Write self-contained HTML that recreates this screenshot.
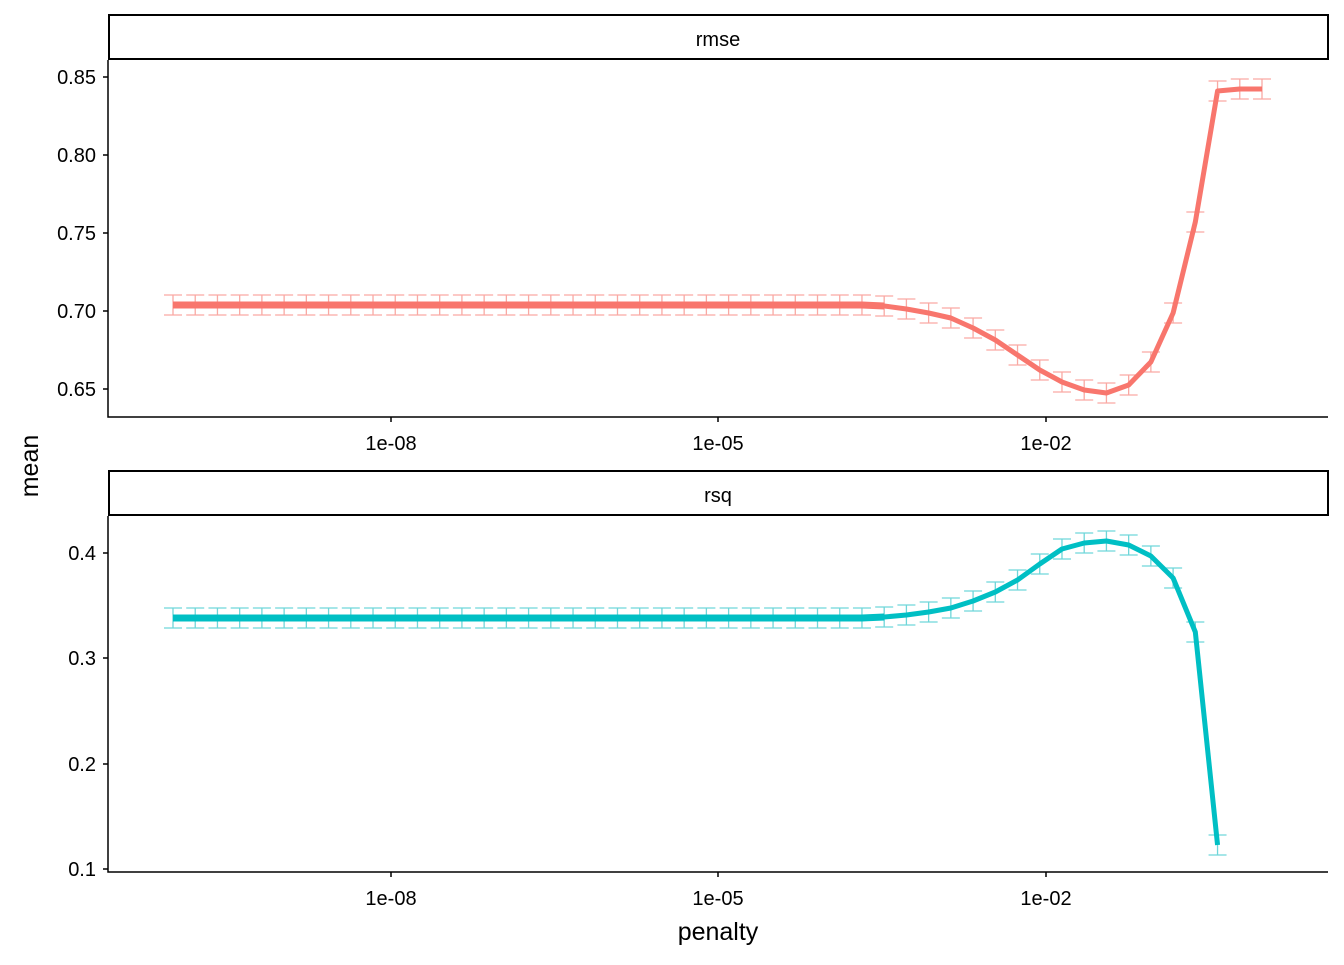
<!DOCTYPE html>
<html><head><meta charset="utf-8"><style>
html,body{margin:0;padding:0;background:#fff;}
svg text{font-family:"Liberation Sans",Arial,sans-serif;}
</style></head><body>
<svg id="s" width="1344" height="960" xmlns="http://www.w3.org/2000/svg">
<rect width="1344" height="960" fill="#fff"/>
<rect x="109" y="15" width="1219" height="44" fill="#fff" stroke="#000" stroke-width="2"/>
<text x="718" y="46" font-size="20" text-anchor="middle">rmse</text>
<rect x="109" y="471" width="1219" height="44" fill="#fff" stroke="#000" stroke-width="2"/>
<text x="718" y="502" font-size="20" text-anchor="middle">rsq</text>
<g stroke="#000" stroke-width="1.5" fill="none">
<path d="M108 60V417H1328"/>
<path d="M108 516V872H1328"/>
</g>
<g id="ticks" stroke="#000" stroke-width="1.5"></g>
<g id="labels" font-size="20" fill="#000"></g>
<g id="plot"></g>
<text x="718" y="940" font-size="25" text-anchor="middle">penalty</text>
<text transform="translate(38,466) rotate(-90)" font-size="25" text-anchor="middle">mean</text>
</svg>
<script>
const NS="http://www.w3.org/2000/svg";
function el(p,t,a,txt){const e=document.createElementNS(NS,t);for(const k in a)e.setAttribute(k,a[k]);if(txt)e.textContent=txt;document.getElementById(p).appendChild(e);}
[[0.85,77],[0.80,155],[0.75,233],[0.70,311],[0.65,389]].forEach(([v,y])=>{el('ticks','line',{x1:103,x2:108,y1:y,y2:y});el('labels','text',{x:96,y:y+7,'text-anchor':'end'},v.toFixed(2));});
[[0.4,553],[0.3,658],[0.2,764],[0.1,869]].forEach(([v,y])=>{el('ticks','line',{x1:103,x2:108,y1:y,y2:y});el('labels','text',{x:96,y:y+7,'text-anchor':'end'},v.toFixed(1));});
[[391,'1e-08'],[718,'1e-05'],[1046,'1e-02']].forEach(([x,t])=>{
 el('ticks','line',{x1:x,x2:x,y1:417,y2:422});el('ticks','line',{x1:x,x2:x,y1:872,y2:877});
 el('labels','text',{x:x,y:450,'text-anchor':'middle'},t);el('labels','text',{x:x,y:905,'text-anchor':'middle'},t);
});
const xs=[];for(let i=0;i<50;i++)xs.push(173+i*(1262-173)/49);
const rTail={862:305,884:306,906:309,929:313,951:318,973:328,995:340,1018:355,1040:370,1062:382,1084:390,1107:393,1129:385,1151:362,1173:313,1196:222,1218:91,1240:89,1262:89};
const qTail={862:618,884:617,906:615,929:612,951:608,973:601,995:592,1018:580,1040:564,1062:549,1084:543,1107:541,1129:545,1151:556,1173:578,1196:632,1218:845};
function val(tail,x,flat){let best=null,bd=1e9;for(const k in tail){const d=Math.abs(k-x);if(d<bd){bd=d;best=tail[k];}}return x<855?flat:best;}
function draw(tail,flat,col,light,maxX){
 const pts=xs.filter(x=>x<=maxX+1).map(x=>[x,val(tail,x,flat)]);
 pts.forEach(([x,y])=>{
  el('plot','path',{d:`M${x-9} ${y-10}H${x+9}M${x} ${y-10}V${y+10}M${x-9} ${y+10}H${x+9}`,stroke:light,'stroke-width':1.3,fill:'none'});
 });
 const flatPts=pts.filter(p=>p[0]<=885);
 el('plot','polyline',{points:flatPts.map(p=>p.join(',')).join(' '),stroke:col,'stroke-width':7,fill:'none'});
 el('plot','polyline',{points:pts.map(p=>p.join(',')).join(' '),stroke:col,'stroke-width':5,fill:'none','stroke-linejoin':'round'});
}
draw(rTail,305,'#F8766D','#F9A9A3',1262);
draw(qTail,618,'#00BFC4','#6FD6D9',1218);
</script>
</body></html>
